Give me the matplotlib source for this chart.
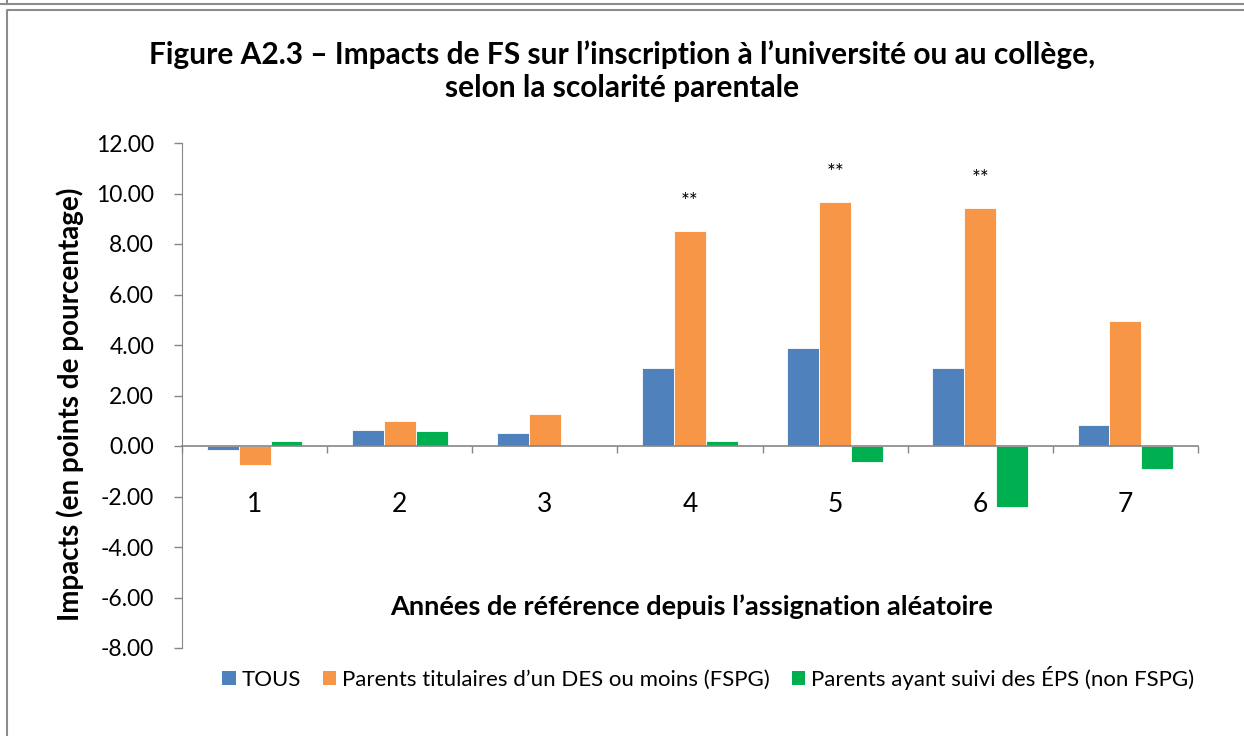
import matplotlib.pyplot as plt
from matplotlib.lines import Line2D
from matplotlib.patches import Patch
import numpy as np

plt.rcParams['font.family'] = ['Lato', 'DejaVu Sans']

# Data
years = [1, 2, 3, 4, 5, 6, 7]
tous = [-0.15, 0.65, 0.53, 3.1, 3.9, 3.1, 0.85]
fspg = [-0.75, 1.0, 1.27, 8.5, 9.65, 9.42, 4.95]
non_fspg = [0.18, 0.6, 0.0, 0.2, -0.65, -2.42, -0.9]
signif = ['', '', '', '**', '**', '**', '']

series_names = ['TOUS',
                'Parents titulaires d\u2019un DES ou moins (FSPG)',
                'Parents ayant suivi des \u00c9PS (non FSPG)']
colors = ['#4F81BD', '#F79646', '#00B050']
y_ticks = np.arange(-8, 13, 2)

fig = plt.figure(figsize=(12.44, 7.36), dpi=100)
ax = fig.add_axes([182/1244, 1-648/736, 1016/1244, 505/736])

x = np.array(years)
w = 0.22
for i, (vals, c) in enumerate(zip([tous, fspg, non_fspg], colors)):
  ax.bar(x + (i-1)*w, vals, width=w, color=c, edgecolor='white', linewidth=0.6, zorder=2)

for xi, v, s in zip(x, fspg, signif):
  if s:
    ax.text(xi, v + 1.15, s, ha='center', va='center', fontsize=15, color='black')

ax.set_xlim(0.5, 7.5)
ax.set_ylim(-8, 12)
ax.set_yticks(y_ticks)
ax.set_yticklabels([f"{t:.2f}" for t in y_ticks])
ax.tick_params(axis='y', length=6, width=1, color='#868686', pad=14, labelsize=16.5)

ax.set_xticks(x)
ax.set_xticklabels([str(y) for y in years])
ax.set_xticks(np.arange(0.5, 8, 1), minor=True)
ax.tick_params(axis='x', which='major', length=0, pad=33, labelsize=19)
ax.tick_params(axis='x', which='minor', length=5, width=1, color='#868686', direction='out')

ax.spines['top'].set_visible(False)
ax.spines['right'].set_visible(False)
ax.spines['left'].set_color('#868686')
ax.spines['bottom'].set_color('#868686')
ax.spines['bottom'].set_linewidth(1.2)
ax.spines['bottom'].set_position(('data', 0))
ax.spines['bottom'].set_zorder(3)

ax.set_ylabel('Impacts (en points de pourcentage)', fontsize=20, fontweight='bold')
ax.yaxis.set_label_coords(-0.096, 0.483)

ax.text(0.502, -6.35, 'Ann\u00e9es de r\u00e9f\u00e9rence depuis l\u2019assignation al\u00e9atoire',
        transform=ax.get_yaxis_transform(),
        fontsize=19.5, fontweight='bold', ha='center', va='center')

fig.text(622/1244, 1-71/736,
         'Figure A2.3 \u2013 Impacts de FS sur l\u2019inscription \u00e0 l\u2019universit\u00e9 ou au coll\u00e8ge,\nselon la scolarit\u00e9 parentale',
         fontsize=21.5, fontweight='bold', ha='center', va='center', linespacing=1.2)

handles = [Patch(facecolor=c, edgecolor='none') for c in colors]
fig.legend(handles, series_names, loc='center', bbox_to_anchor=(708/1244, 1-678/736),
           ncol=3, frameon=False, fontsize=16, handlelength=0.6, handleheight=0.6,
           handletextpad=0.25, columnspacing=1.0)

# page borders
fig.add_artist(Line2D([0, 1], [1-4/736, 1-4/736], color='#8c8c8c', linewidth=1.5, transform=fig.transFigure))
fig.add_artist(Line2D([7/1244, 7/1244, 1], [0, 1-10/736, 1-10/736], color='#8c8c8c', linewidth=1.5, transform=fig.transFigure))
fig.add_artist(Line2D([7/1244, 7/1244], [1-4/736, 1], color='#8c8c8c', linewidth=1.5, transform=fig.transFigure))

plt.savefig('out.png', dpi=100)
